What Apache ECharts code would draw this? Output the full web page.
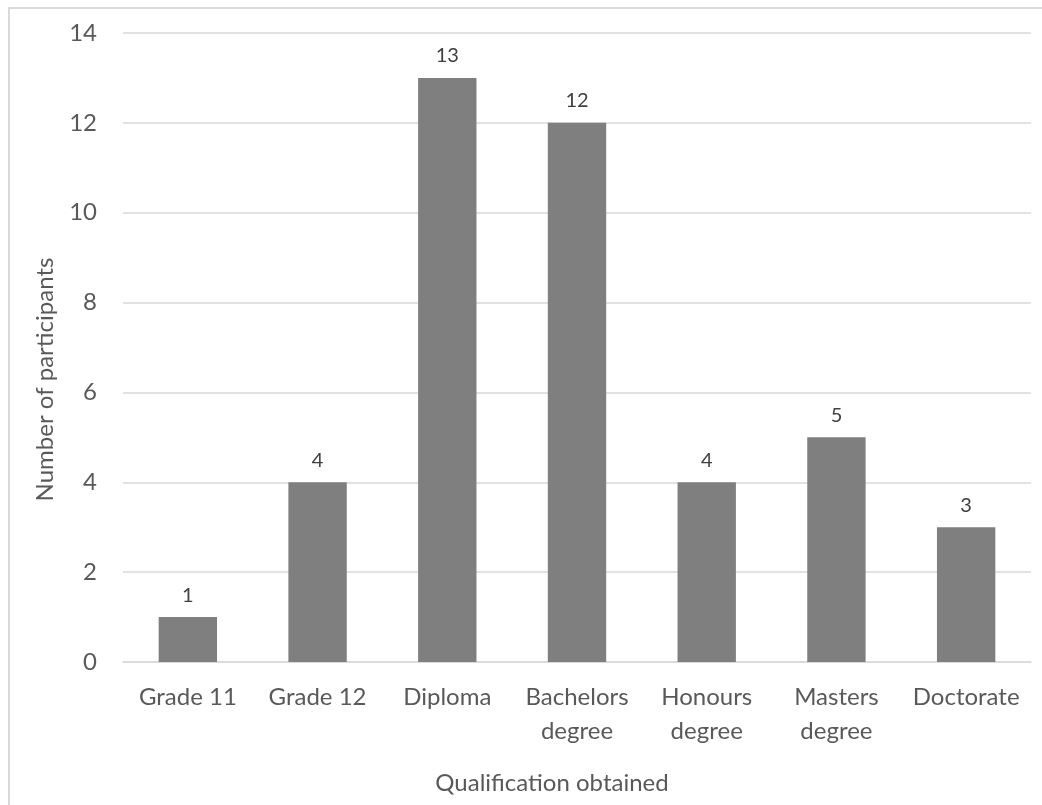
<!DOCTYPE html>
<html>
<head>
<meta charset="utf-8">
<script src="https://cdn.jsdelivr.net/npm/echarts@6/dist/echarts.min.js"></script>
<style>
  html, body { margin: 0; padding: 0; background: #ffffff; }
  #chart { width: 1042px; height: 805px; }
</style>
</head>
<body>
<div id="chart"></div>
<script>
// Participants by highest qualification obtained
const categories = ['Grade 11', 'Grade 12', 'Diploma', 'Bachelors\ndegree', 'Honours\ndegree', 'Masters\ndegree', 'Doctorate'];
const participants = [1, 4, 13, 12, 4, 5, 3];
const yTicks = [0, 2, 4, 6, 8, 10, 12, 14];

const FONT = 'Lato, "Open Sans", sans-serif';
const chart = echarts.init(document.getElementById('chart'), null, { renderer: 'canvas' });

chart.setOption({
  backgroundColor: '#ffffff',
  animation: false,
  graphic: [{
    type: 'rect',
    shape: { x: 9, y: 8, width: 1060, height: 820 },
    style: { fill: 'none', stroke: '#d9d9d9', lineWidth: 2 },
    silent: true
  }],
  grid: { left: 123, right: 11, top: 33, bottom: 143, containLabel: false },
  xAxis: {
    type: 'category',
    data: categories,
    name: 'Qualification obtained',
    nameLocation: 'middle',
    nameGap: 109,
    // title sits slightly left of the plot centre
    nameTextStyle: { fontFamily: FONT, fontSize: 24, color: '#595959', padding: [0, 50, 0, 0] },
    axisLine: { show: true, lineStyle: { color: '#d9d9d9', width: 1.5 } },
    axisTick: { show: false },
    axisLabel: {
      fontFamily: FONT, fontSize: 24, color: '#595959',
      margin: 18, lineHeight: 34, interval: 0
    }
  },
  yAxis: {
    type: 'value',
    min: yTicks[0],
    max: yTicks[yTicks.length - 1],
    interval: yTicks[1] - yTicks[0],
    name: 'Number of participants',
    nameLocation: 'middle',
    nameGap: 66,
    // title sits a little below the plot centre
    nameTextStyle: { fontFamily: FONT, fontSize: 24, color: '#595959', padding: [0, 64, 0, 0] },
    axisLine: { show: false },
    axisTick: { show: false },
    axisLabel: { fontFamily: FONT, fontSize: 24, color: '#595959', margin: 26 },
    splitLine: { lineStyle: { color: '#d9d9d9', width: 1.5 } }
  },
  series: [{
    type: 'bar',
    data: participants,
    barWidth: '45%',
    itemStyle: { color: '#7f7f7f' },
    label: {
      show: true, position: 'top', distance: 12,
      fontFamily: FONT, fontSize: 20, color: '#404040'
    }
  }]
});
</script>
</body>
</html>
